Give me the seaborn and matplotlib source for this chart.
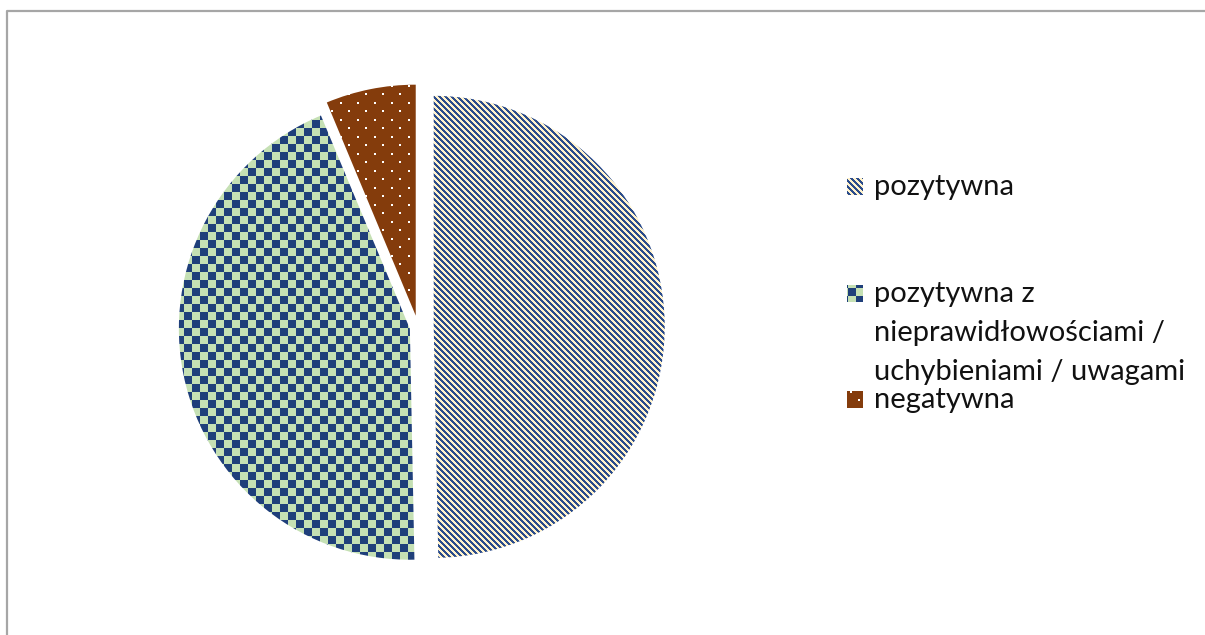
import numpy as np
import matplotlib
matplotlib.use("Agg")
import matplotlib.pyplot as plt
from matplotlib.patches import Rectangle
import seaborn as sns

# ---- data ----
categories = ["pozytywna",
              "pozytywna z nieprawidłowościami / uchybieniami / uwagami",
              "negatywna"]
legend_labels = ["pozytywna",
                 "pozytywna z\nnieprawidłowościami /\nuchybieniami / uwagami",
                 "negatywna"]
values = [79, 70, 10]
explode_frac = [0.068, 0.036, 0.05]

sns.set_theme(style="white")
plt.rcParams['font.family'] = ['Lato', 'DejaVu Sans']

W, H = 1205, 635
R = 231
fig = plt.figure(figsize=(W / 100, H / 100), dpi=100)
ax = fig.add_axes([0, 0, 1, 1])

# matplotlib's explode is in data units, so scale the fractions by the radius
wedges, _ = ax.pie(values, startangle=90, counterclock=False,
                   explode=[e * R for e in explode_frac],
                   center=(418, H - 327), radius=R,
                   wedgeprops=dict(linewidth=0, facecolor='none'))

# ---- textures (pixel based patterns) ----
yy, xx = np.mgrid[0:H, 0:W]

def rgb(h):
    h = h.lstrip('#')
    return np.array([int(h[i:i + 2], 16) for i in (0, 2, 4)], dtype=np.uint8)

def two_tone(mask, c_on, c_off):
    arr = np.empty((H, W, 3), dtype=np.uint8)
    arr[:] = rgb(c_off)
    arr[mask] = rgb(c_on)
    return arr

stripe = two_tone((((xx - yy) // 3) % 2) == 0, '#2B4C8C', '#FFF2CC')
checker = two_tone((((xx // 8) + (yy // 8)) % 2) == 0, '#1F3F7A', '#C5E0B4')
dots_mask = (((yy % 17) < 2) & ((xx % 17) < 2)) | \
            ((((yy - 8) % 17) < 2) & (((xx - 8) % 17) < 2))
dots = two_tone(dots_mask, '#FFFFFF', '#843C0C')
textures = [stripe, checker, dots]

def textured(arr, clip):
    im = ax.imshow(arr, extent=(0, W, 0, H), origin='upper',
                   interpolation='nearest', zorder=2)
    im.set_clip_path(clip)

for w, tex in zip(wedges, textures):
    textured(tex, w)

# ---- legend (manual, Excel style) ----
key_x = 847
text_x = 874
baselines = [[195], [302, 341, 380], [408]]
for lab, tex, bls in zip(legend_labels, textures, baselines):
    b0 = bls[0]
    rect = Rectangle((key_x, H - b0), 16, 17, facecolor='none', edgecolor='none')
    ax.add_patch(rect)
    textured(tex, rect)
    for line, bl in zip(lab.split('\n'), bls):
        ax.text(text_x, H - bl, line, fontsize=21, color='#111111',
                ha='left', va='baseline', zorder=3)

# ---- outer border (top and left visible) ----
ax.plot([7, 7, W + 5], [0, H - 10.5, H - 10.5], color='#A6A6A6', lw=1.6,
        solid_capstyle='butt', zorder=1)

ax.set_xlim(0, W)
ax.set_ylim(0, H)
ax.set_aspect('auto')
ax.axis('off')

fig.savefig('out.png', dpi=100, facecolor='white')
